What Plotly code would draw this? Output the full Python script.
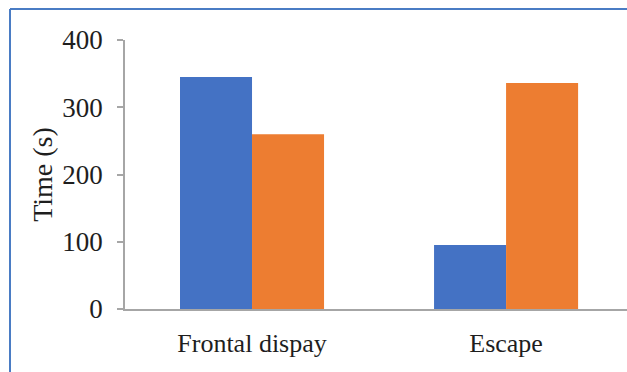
import plotly.graph_objects as go

# Data
categories = ["Frontal dispay", "Escape"]
series_a = [345, 95]
series_b = [260, 336]
y_ticks = [0, 100, 200, 300, 400]

W, H = 627, 372
L, R, T, B = 125, 0, 40, 63
plot_w = W - L - R
plot_h = H - T - B

fig = go.Figure()
fig.add_trace(go.Bar(x=categories, y=series_a, marker=dict(color="#4472C4", line=dict(width=0)), showlegend=False))
fig.add_trace(go.Bar(x=categories, y=series_b, marker=dict(color="#ED7D31", line=dict(width=0)), showlegend=False))

# outer frame (left and top edges visible)
bx = (10 - L) / plot_w
by_top = (H - B - 9) / plot_h
by_bot = (H - B - H - 5) / plot_h
frame = dict(color="#4A7CC4", width=2)
fig.add_shape(type="line", xref="paper", yref="paper", x0=bx, x1=bx, y0=by_bot, y1=by_top, line=frame)
fig.add_shape(type="line", xref="paper", yref="paper", x0=bx, x1=1.05, y0=by_top, y1=by_top, line=frame)

font = "Liberation Serif, Times New Roman, serif"
text_color = "#1E1E1E"
fig.update_layout(
    width=W, height=H,
    margin=dict(l=L, r=R, t=T, b=B),
    paper_bgcolor="white", plot_bgcolor="white",
    barmode="group", bargap=0.433, bargroupgap=0,
    font=dict(family=font, color=text_color),
    xaxis=dict(
        range=[-0.5, 1.476], showline=True, linecolor="#A6A6A6", linewidth=1.5,
        ticks="", tickfont=dict(size=26, family=font, color=text_color),
        ticklabelstandoff=10, showgrid=False, zeroline=False,
    ),
    yaxis=dict(
        range=[0, 400], tickvals=y_ticks, showline=True, linecolor="#A6A6A6", linewidth=1.5,
        ticks="outside", ticklen=6, tickcolor="#A6A6A6", tickwidth=1.5,
        tickfont=dict(size=27, family=font, color=text_color), ticklabelstandoff=9,
        showgrid=False, zeroline=False,
        title=dict(text="Time (s)", font=dict(size=28, family=font, color=text_color), standoff=2),
    ),
)

fig.write_html("out.html")
